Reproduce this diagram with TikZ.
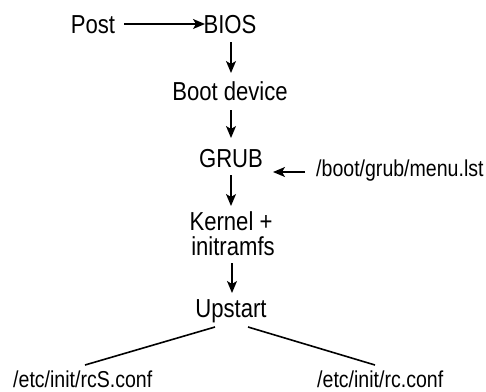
\documentclass[tikz,border=0pt]{standalone}
\usepackage{fontspec}
\setmainfont{Liberation Sans}[FakeStretch=0.85]
\usetikzlibrary{arrows.meta}
\begin{document}
\begin{tikzpicture}[x=1pt,y=1pt,
  lbl/.style={inner sep=0pt,anchor=base,font=\fontsize{26}{26}\selectfont},
  path/.style={inner sep=0pt,anchor=base,font=\fontsize{23}{23}\selectfont},
  arr/.style={line width=1.4pt,-{Stealth[length=12pt,width=10pt,inset=3pt]}},
  ln/.style={line width=1.6pt}]
\useasboundingbox (0,0) rectangle (486,-391);
\node[lbl] (post) at (93,-33) {Post};
\node[lbl] (bios) at (230,-33) {BIOS};
\node[lbl] (boot) at (230,-100) {Boot device};
\node[lbl] (grub) at (231,-167) {GRUB};
\node[path,anchor=base west] (menu) at (316,-176) {/boot/grub/menu.lst};
\node[lbl] (kernel) at (231,-230) {Kernel +};
\node[lbl] (initramfs) at (233,-255) {initramfs};
\node[lbl] (upstart) at (231,-317) {Upstart};
\node[path,anchor=base west] (rcs) at (13,-387) {/etc/init/rcS.conf};
\node[path,anchor=base west] (rc) at (317,-387) {/etc/init/rc.conf};
\draw[arr] ([xshift=31pt,yshift=9pt]post.base) -- ([xshift=-25pt,yshift=9pt]bios.base);
\draw[arr] ([xshift=1pt,yshift=-9pt]bios.base) -- ([xshift=1pt,yshift=27pt]boot.base);
\draw[arr] ([xshift=1pt,yshift=-10pt]boot.base) -- ([yshift=29pt]grub.base);
\draw[arr] ([yshift=-8pt]grub.base) -- ([yshift=24pt]kernel.base);
\draw[arr] ([xshift=-1pt,yshift=-8pt]initramfs.base) -- ([xshift=1pt,yshift=24pt]upstart.base);
\draw[arr] ([xshift=-11pt,yshift=4pt]menu.base west) -- ([xshift=-43pt,yshift=4pt]menu.base west);
\draw[ln] ([xshift=-16pt,yshift=-10pt]upstart.base) -- ([xshift=72pt,yshift=22pt]rcs.base west);
\draw[ln] ([xshift=17pt,yshift=-10pt]upstart.base) -- ([xshift=58pt,yshift=22pt]rc.base west);
\end{tikzpicture}
\end{document}
